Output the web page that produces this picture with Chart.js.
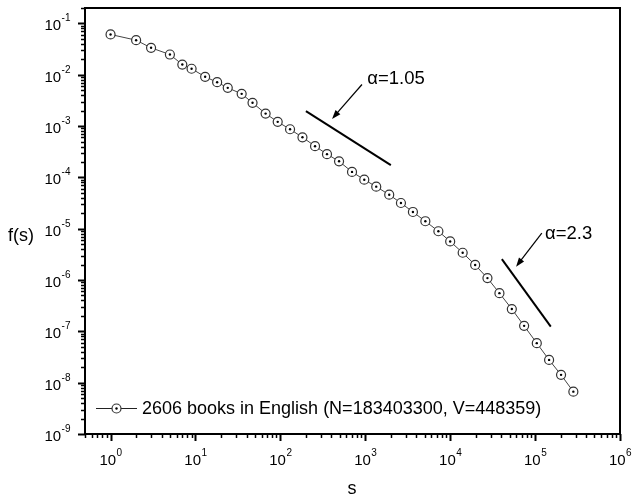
<!DOCTYPE html>
<html>
<head>
<meta charset="utf-8">
<title>f(s) vs s</title>
<script src="https://cdn.jsdelivr.net/npm/chart.js@4.4.1/dist/chart.umd.min.js"></script>
<style>
    html, body { margin: 0; padding: 0; background: #fff; }
    #wrap { width: 633px; height: 499px; }
</style>
</head>
<body>
<div id="wrap"><canvas id="zipf" width="633" height="499"></canvas></div>
<script>
// data (log-binned)

const sizes = [1, 2, 3, 5, 7, 9, 13, 18, 24, 35, 47, 67, 93, 130, 182, 256, 354, 491, 698,
    973, 1346, 1914, 2630, 3640, 5100, 7260, 10000, 14030, 19680, 27470, 38020, 53210,
    74270, 104700, 146200, 202200, 282300];
const freqs = [0.061, 0.0472, 0.0335, 0.0248, 0.0158, 0.0131, 0.00912, 0.00716, 0.00556,
    0.00425, 0.00284, 0.00175, 0.00121, 8.67e-4, 6.05e-4, 4.06e-4, 2.84e-4, 2.06e-4, 1.28e-4,
    9.03e-5, 6.6e-5, 4.6e-5, 3.17e-5, 2.12e-5, 1.40e-5, 8.93e-6, 5.65e-6, 3.40e-6, 1.97e-6,
    1.09e-6, 5.56e-7, 2.72e-7, 1.28e-7, 5.89e-8, 2.78e-8, 1.42e-8, 6.68e-9];

// reference slopes
const slopeLowX = [200, 2000];
const slopeLowY = [1.95e-3, 1.74e-4];
const slopeHighX = [40600, 153000];
const slopeHighY = [2.56e-6, 1.24e-7];

// annotation text + arrow (tail, tip) in data coords
const notes = [
    {text: 'α=1.05', at: [1056, 8.45e-3], tail: [914, 6.46e-3], tip: [406, 1.38e-3]},
    {text: 'α=2.3', at: [1.31e5, 7.98e-6], tail: [1.2e5, 8.24e-6], tip: [59700, 1.82e-6]}
];

const legendLabel = '2606 books in English (N=183403300, V=448359)';
const xTitle = 's';
const yTitle = 'f(s)';

const xMin = 0.5, xMax = 1e6;
const yMin = 1e-9, yMax = 0.2;
const xDecades = [0, 1, 2, 3, 4, 5, 6];
const yDecades = [-9, -8, -7, -6, -5, -4, -3, -2, -1];

const FONT = "'Liberation Sans', Arial, sans-serif";

// helpers

const pts = (xs, ys) => xs.map((x, i) => ({x, y: ys[i]}));

function drawPow(ctx, exp, x, y, align){
    // "10" with a raised exponent
    ctx.font = '15px ' + FONT;
    let wb = ctx.measureText('10').width;
    ctx.font = '10px ' + FONT;
    let ws = ctx.measureText(String(exp)).width;
    let left = align === 'center' ? x - (wb + ws) / 2 : x - (wb + ws);
    ctx.textAlign = 'left';
    ctx.textBaseline = 'alphabetic';
    ctx.font = '15px ' + FONT;
    ctx.fillText('10', left, y);
    ctx.font = '10px ' + FONT;
    ctx.fillText(String(exp), left + wb + 0.5, y - 9);
}

function arrow(ctx, x1, y1, x2, y2){
    let a = Math.atan2(y2 - y1, x2 - x1);
    let hl = 9, hw = 3.2;
    ctx.beginPath();
    ctx.moveTo(x1, y1);
    ctx.lineTo(x2 - Math.cos(a) * hl * 0.8, y2 - Math.sin(a) * hl * 0.8);
    ctx.stroke();
    ctx.beginPath();
    ctx.moveTo(x2, y2);
    ctx.lineTo(x2 - Math.cos(a) * hl - Math.sin(a) * hw, y2 - Math.sin(a) * hl + Math.cos(a) * hw);
    ctx.lineTo(x2 - Math.cos(a) * hl + Math.sin(a) * hw, y2 - Math.sin(a) * hl - Math.cos(a) * hw);
    ctx.closePath();
    ctx.fill();
}

function marker(ctx, x, y){
    ctx.beginPath();
    ctx.arc(x, y, 4.5, 0, Math.PI * 2);
    ctx.fillStyle = '#fff';
    ctx.fill();
    ctx.lineWidth = 1.2;
    ctx.strokeStyle = '#333';
    ctx.stroke();
    ctx.beginPath();
    ctx.arc(x, y, 1.2, 0, Math.PI * 2);
    ctx.fillStyle = '#000';
    ctx.fill();
}

// frame, ticks, labels, legend, notes

const decor = {
    id: 'decor',
    afterDraw(chart){
        const {ctx, chartArea: ca, scales: {x, y}} = chart;
        ctx.save();
        ctx.strokeStyle = '#000';
        ctx.fillStyle = '#000';

        // box
        ctx.lineWidth = 2;
        ctx.strokeRect(ca.left, ca.top, ca.right - ca.left, ca.bottom - ca.top);

        // x ticks
        xDecades.forEach(d => {
            for(let m = 1; m <= 9; m++){
                let v = m * Math.pow(10, d);
                if(v < xMin || v > xMax) continue;
                let px = Math.round(x.getPixelForValue(v)) + 0.5;
                ctx.lineWidth = m === 1 ? 2 : 1.5;
                ctx.beginPath();
                ctx.moveTo(px, ca.bottom);
                ctx.lineTo(px, ca.bottom + (m === 1 ? 7 : 4));
                ctx.stroke();
            }
        });
        [1, 2, 3, 4, 5, 6, 7, 8, 9].map(m => m * 0.1).forEach(v => {
            if(v < xMin) return;
            let px = Math.round(x.getPixelForValue(v)) + 0.5;
            ctx.lineWidth = 1.5;
            ctx.beginPath();
            ctx.moveTo(px, ca.bottom);
            ctx.lineTo(px, ca.bottom + 4);
            ctx.stroke();
        });

        // y ticks
        yDecades.concat([0]).forEach(d => {
            for(let m = 1; m <= 9; m++){
                let v = m * Math.pow(10, d);
                if(v < yMin || v > yMax) continue;
                let py = Math.round(y.getPixelForValue(v)) + 0.5;
                ctx.lineWidth = m === 1 ? 2 : 1.5;
                ctx.beginPath();
                ctx.moveTo(ca.left, py);
                ctx.lineTo(ca.left - (m === 1 ? 7 : 4), py);
                ctx.stroke();
            }
        });

        // tick labels
        xDecades.forEach(d => drawPow(ctx, d, x.getPixelForValue(Math.pow(10, d)), 465, 'center'));
        yDecades.forEach(d => drawPow(ctx, d, 70, y.getPixelForValue(Math.pow(10, d)) + 7, 'right'));

        // axis titles
        ctx.font = '18px ' + FONT;
        ctx.textAlign = 'center';
        ctx.textBaseline = 'middle';
        ctx.fillText(xTitle, 352, 489);
        ctx.fillText(yTitle, 21, 236);

        // legend
        ctx.lineWidth = 1.2;
        ctx.strokeStyle = '#222';
        ctx.beginPath();
        ctx.moveTo(96, 408.5);
        ctx.lineTo(137, 408.5);
        ctx.stroke();
        marker(ctx, 116.5, 408.5);
        ctx.fillStyle = '#000';
        ctx.font = '18px ' + FONT;
        ctx.textAlign = 'left';
        ctx.textBaseline = 'middle';
        ctx.fillText(legendLabel, 142, 409);

        // notes
        notes.forEach(n => {
            ctx.font = '18.5px ' + FONT;
            ctx.textAlign = 'left';
            ctx.textBaseline = 'middle';
            ctx.fillStyle = '#000';
            ctx.fillText(n.text, x.getPixelForValue(n.at[0]), y.getPixelForValue(n.at[1]));
            ctx.strokeStyle = '#000';
            ctx.lineWidth = 1.2;
            arrow(ctx,
                x.getPixelForValue(n.tail[0]), y.getPixelForValue(n.tail[1]),
                x.getPixelForValue(n.tip[0]), y.getPixelForValue(n.tip[1]));
        });

        ctx.restore();
    }
};

// chart
// higher order = drawn earlier, so the centre dots (order 0) land on top of the circles

new Chart('zipf', {
    type: 'line',
    data: {
        datasets: [
            {
                label: legendLabel,
                data: pts(sizes, freqs),
                order: 1,
                borderColor: '#444',
                borderWidth: 1,
                pointRadius: 4.5,
                pointBorderWidth: 1.2,
                pointBorderColor: '#333',
                pointBackgroundColor: '#fff',
                tension: 0
            },
            {
                label: 'centres',
                data: pts(sizes, freqs),
                order: 0,
                showLine: false,
                pointRadius: 1.2,
                pointBorderWidth: 0,
                pointBorderColor: '#000',
                pointBackgroundColor: '#000'
            },
            {
                label: 'slope 1.05',
                data: pts(slopeLowX, slopeLowY),
                order: 2,
                borderColor: '#000',
                borderWidth: 2,
                pointRadius: 0
            },
            {
                label: 'slope 2.3',
                data: pts(slopeHighX, slopeHighY),
                order: 2,
                borderColor: '#000',
                borderWidth: 2,
                pointRadius: 0
            }
        ]
    },
    options: {
        responsive: false,
        animation: false,
        events: [],
        layout: {padding: {left: 85, top: 8, right: 13, bottom: 65}},
        scales: {
            x: {type: 'logarithmic', min: xMin, max: xMax, display: false},
            y: {type: 'logarithmic', min: yMin, max: yMax, display: false}
        },
        plugins: {
            legend: {display: false},
            tooltip: {enabled: false}
        }
    },
    plugins: [decor]
});
</script>
</body>
</html>
